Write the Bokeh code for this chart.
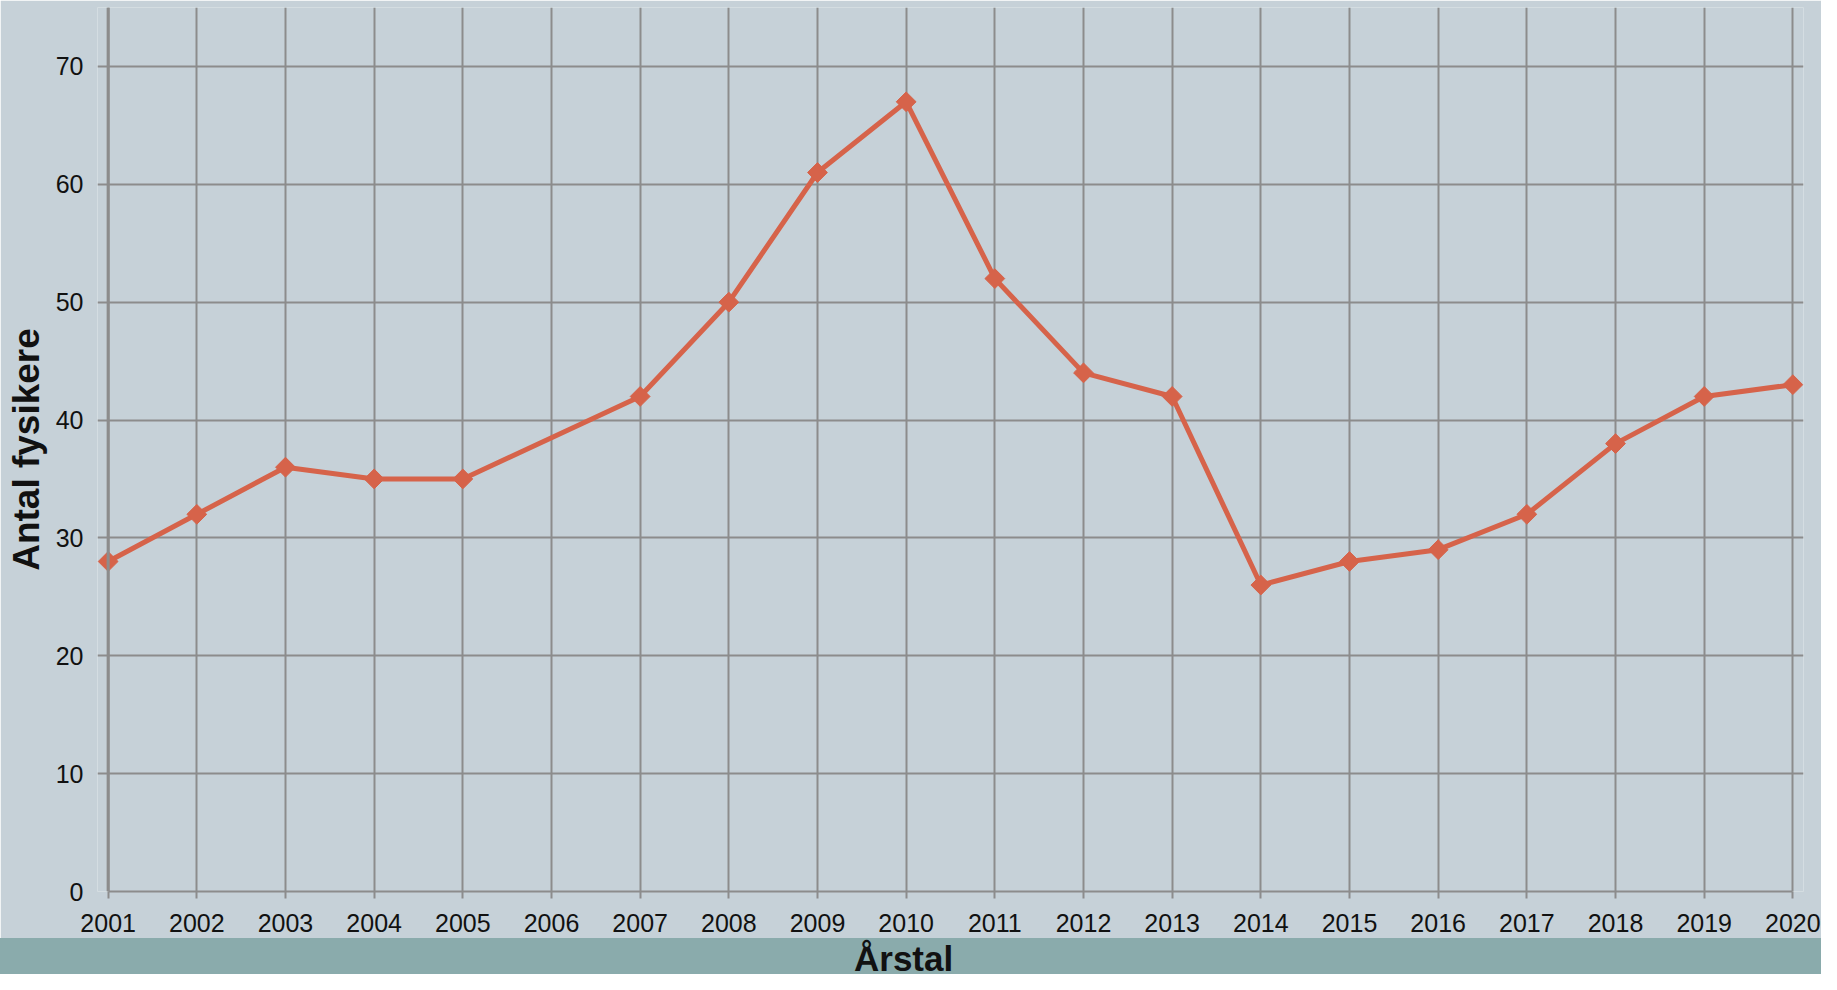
import numpy as np
from bokeh.plotting import figure
from bokeh.models import FixedTicker, ColumnDataSource, Span, Div
from bokeh.layouts import column
from bokeh.embed import file_html
from bokeh.resources import INLINE

# ---- data ----
years = [2001, 2002, 2003, 2004, 2005, 2007, 2008, 2009, 2010, 2011,
         2012, 2013, 2014, 2015, 2016, 2017, 2018, 2019, 2020]
counts = [28, 32, 36, 35, 35, 42, 50, 61, 67, 52,
          44, 42, 26, 28, 29, 32, 38, 42, 43]
x_ticks = list(range(2001, 2021))
x_tick_labels = [str(y) for y in x_ticks]
y_ticks = [0, 10, 20, 30, 40, 50, 60, 70]
y_label = "Antal fysikere"
x_label = "Årstal"

BG = "#c6d1d8"
BAND = "#8aabac"
GRID = "#8c8c8c"
LINE = "#d6634a"
FONT = "Liberation Sans"

W = 1821
H_MAIN = 938
H_BAND = 974 - H_MAIN
PAD = 0.12              # years of room beyond first/last year so markers are not clipped
PX_PER_YEAR = 88.67

x0, x1 = x_ticks[0], x_ticks[-1]
p = figure(width=W, height=H_MAIN, x_range=(x0 - PAD, x1 + PAD), y_range=(0, 75),
           output_backend="svg", toolbar_location=None,
           min_border_left=97, min_border_right=18, min_border_top=7,
           min_border_bottom=47)
p.background_fill_color = BG
p.border_fill_color = BG
p.outline_line_color = None

# grid
p.xgrid.ticker = FixedTicker(ticks=x_ticks)
p.ygrid.ticker = FixedTicker(ticks=y_ticks)
p.grid.grid_line_color = GRID
p.grid.grid_line_width = 2
p.ygrid.bounds = (x0 - 8 / PX_PER_YEAR, x1)   # left stub acts as y tick mark

# y axis line at first year
p.add_layout(Span(location=x0, dimension="height", line_color=GRID, line_width=3))

src = ColumnDataSource(dict(x=years, y=counts))
p.line("x", "y", source=src, line_color=LINE, line_width=5)
p.scatter("x", "y", source=src, marker="square", angle=np.pi / 4, size=14,
          fill_color=LINE, line_color=LINE, line_width=1)

# x axis
xa = p.xaxis[0]
xa.ticker = FixedTicker(ticks=x_ticks)
xa.major_label_overrides = dict(zip(x_ticks, x_tick_labels))
xa.bounds = (x0, x1)
xa.axis_line_color = GRID
xa.axis_line_width = 2
xa.major_tick_line_color = GRID
xa.major_tick_line_width = 2
xa.major_tick_in = 0
xa.major_tick_out = 7
xa.minor_tick_line_color = None
xa.major_label_standoff = 15
xa.major_label_text_font = FONT
xa.major_label_text_font_size = "25px"
xa.major_label_text_color = "#111111"

# y axis (labels only; line and ticks drawn by span / grid stubs)
ya = p.yaxis[0]
ya.ticker = FixedTicker(ticks=y_ticks)
ya.axis_line_color = None
ya.major_tick_line_color = None
ya.major_tick_in = 0
ya.major_tick_out = 0
ya.minor_tick_line_color = None
ya.major_label_standoff = 14
ya.major_label_text_font = FONT
ya.major_label_text_font_size = "25px"
ya.major_label_text_color = "#111111"
ya.axis_label = y_label
ya.axis_label_text_font = FONT
ya.axis_label_text_font_size = "37px"
ya.axis_label_text_font_style = "bold"
ya.axis_label_text_color = "#111111"
ya.axis_label_standoff = 6

# ---- bottom band with x-axis title ----
band_html = (
    f'<div style="position:relative; width:{W}px; height:{H_BAND}px;">'
    f'<div style="position:absolute; left:854px; top:1px; '
    f"font-family:'{FONT}'; font-weight:bold; font-size:35px; line-height:normal; "
    f'color:#111111; white-space:nowrap;">{x_label}</div></div>'
)
band = Div(text=band_html, width=W, height=H_BAND, margin=0,
           styles={"background-color": BAND})

layout = column(p, band, spacing=0)
open("out.html", "w", encoding="utf-8").write(file_html(layout, INLINE))
